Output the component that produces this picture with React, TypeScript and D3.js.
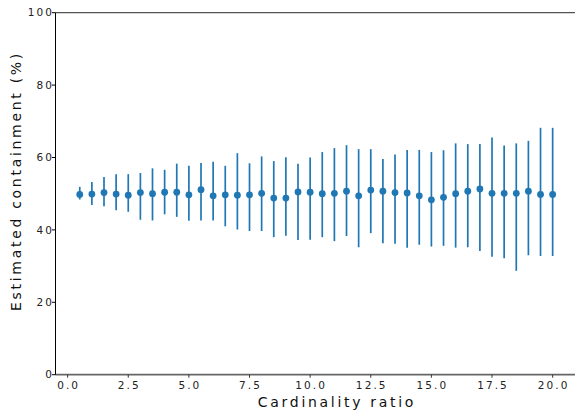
import { useEffect, useRef } from "react";
import * as d3 from "d3";

// cardinality ratio for each measurement
const ratios = [
  0.5, 1.0, 1.5, 2.0, 2.5, 3.0, 3.5, 4.0, 4.5, 5.0,
  5.5, 6.0, 6.5, 7.0, 7.5, 8.0, 8.5, 9.0, 9.5, 10.0,
  10.5, 11.0, 11.5, 12.0, 12.5, 13.0, 13.5, 14.0, 14.5, 15.0,
  15.5, 16.0, 16.5, 17.0, 17.5, 18.0, 18.5, 19.0, 19.5, 20.0,
];
// estimated containment (%) mean
const means = [
  49.8, 49.9, 50.3, 49.9, 49.6, 50.3, 50.0, 50.4, 50.4, 49.7,
  51.1, 49.4, 49.7, 49.6, 49.7, 50.1, 48.8, 48.8, 50.5, 50.4,
  50.0, 50.1, 50.7, 49.4, 51.0, 50.7, 50.3, 50.2, 49.4, 48.3,
  49.0, 50.0, 50.7, 51.3, 50.1, 50.1, 50.1, 50.7, 49.8, 49.8,
];
// error bar upper ends
const upper = [
  51.9, 53.2, 54.6, 55.4, 55.4, 55.7, 57.0, 56.6, 58.3, 57.7,
  58.5, 58.8, 57.7, 61.2, 58.4, 60.3, 59.0, 60.1, 58.3, 60.0,
  61.5, 62.6, 63.4, 62.3, 62.3, 59.6, 60.8, 62.1, 62.1, 61.5,
  62.0, 63.9, 63.7, 63.7, 65.5, 63.3, 63.9, 64.6, 68.2, 68.2,
];
// error bar lower ends
const lower = [
  48.4, 46.9, 46.5, 45.4, 45.0, 42.8, 42.6, 44.3, 43.6, 42.5,
  42.6, 42.6, 41.0, 40.1, 39.7, 39.7, 38.0, 38.4, 37.2, 37.3,
  38.0, 36.9, 38.3, 35.2, 39.1, 36.3, 36.2, 35.1, 35.9, 35.4,
  35.6, 35.1, 35.2, 34.2, 32.6, 32.2, 28.7, 33.0, 32.8, 32.8,
];
const xTicks = [0, 2.5, 5, 7.5, 10, 12.5, 15, 17.5, 20];
const yTicks = [0, 20, 40, 60, 80, 100];

const WIDTH = 575;
const HEIGHT = 412;
const BLUE = "#1f77b4";
const FONT = "'DejaVu Sans', sans-serif";

export default function App() {
  const svgRef = useRef<SVGSVGElement | null>(null);

  useEffect(() => {
    const svg = d3.select(svgRef.current);
    svg.selectAll("*").remove();

    const x = d3.scaleLinear().domain([-0.5, 21]).range([55.5, 576.9]);
    const y = d3.scaleLinear().domain([0, 100]).range([374.7, 12.7]);

    const data = ratios.map((r, i) => ({ r, m: means[i], hi: upper[i], lo: lower[i] }));

    // spines
    svg.append("line")
      .attr("x1", x(-0.5)).attr("x2", WIDTH)
      .attr("y1", y(100)).attr("y2", y(100))
      .attr("stroke", "#555").attr("stroke-width", 1.3);
    svg.append("line")
      .attr("x1", x(-0.5)).attr("x2", WIDTH)
      .attr("y1", y(0)).attr("y2", y(0))
      .attr("stroke", "#666").attr("stroke-width", 1.8);
    svg.append("line")
      .attr("x1", x(-0.5)).attr("x2", x(-0.5))
      .attr("y1", y(100)).attr("y2", y(0))
      .attr("stroke", "#000").attr("stroke-width", 1);

    // y ticks
    const yg = svg.append("g");
    yg.selectAll("line").data(yTicks).enter().append("line")
      .attr("x1", x(-0.5) - 3.5).attr("x2", x(-0.5))
      .attr("y1", (d) => y(d)).attr("y2", (d) => y(d))
      .attr("stroke", "#000").attr("stroke-width", 1);
    yg.selectAll("text").data(yTicks).enter().append("text")
      .attr("x", x(-0.5) - 1.5)
      .attr("y", (d) => y(d) + 3.6)
      .attr("text-anchor", "end")
      .style("font-family", FONT).style("font-size", "10.5px")
      .style("letter-spacing", "2.1px").attr("fill", "#222")
      .text((d) => String(d));

    // x ticks
    const xg = svg.append("g");
    xg.selectAll("line").data(xTicks).enter().append("line")
      .attr("x1", (d) => x(d)).attr("x2", (d) => x(d))
      .attr("y1", y(0)).attr("y2", y(0) + 3)
      .attr("stroke", "#333").attr("stroke-width", 1);
    xg.selectAll("text").data(xTicks).enter().append("text")
      .attr("x", (d) => x(d) + 1)
      .attr("y", 389.3)
      .attr("text-anchor", "middle")
      .style("font-family", FONT).style("font-size", "10.5px")
      .style("letter-spacing", "2.1px").attr("fill", "#222")
      .text((d) => d.toFixed(1));

    // axis labels
    svg.append("text")
      .attr("x", 337).attr("y", 407)
      .attr("text-anchor", "middle")
      .style("font-family", FONT).style("font-size", "14px")
      .style("letter-spacing", "2.7px").attr("fill", "#111")
      .text("Cardinality ratio");
    svg.append("text")
      .attr("transform", "translate(21,181) rotate(-90)")
      .attr("text-anchor", "middle")
      .style("font-family", FONT).style("font-size", "14px")
      .style("letter-spacing", "2.7px").attr("fill", "#111")
      .text("Estimated containment (%)");

    // error bars
    svg.append("g").selectAll("line").data(data).enter().append("line")
      .attr("x1", (d) => x(d.r)).attr("x2", (d) => x(d.r))
      .attr("y1", (d) => y(d.hi)).attr("y2", (d) => y(d.lo))
      .attr("stroke", BLUE).attr("stroke-width", 1.7);

    // markers
    svg.append("g").selectAll("circle").data(data).enter().append("circle")
      .attr("cx", (d) => x(d.r)).attr("cy", (d) => y(d.m))
      .attr("r", 3.4).attr("fill", BLUE);
  }, []);

  return (
    <svg
      ref={svgRef}
      width={WIDTH}
      height={HEIGHT}
      style={{ position: "fixed", left: 0, top: 0, background: "#fff" }}
    />
  );
}
